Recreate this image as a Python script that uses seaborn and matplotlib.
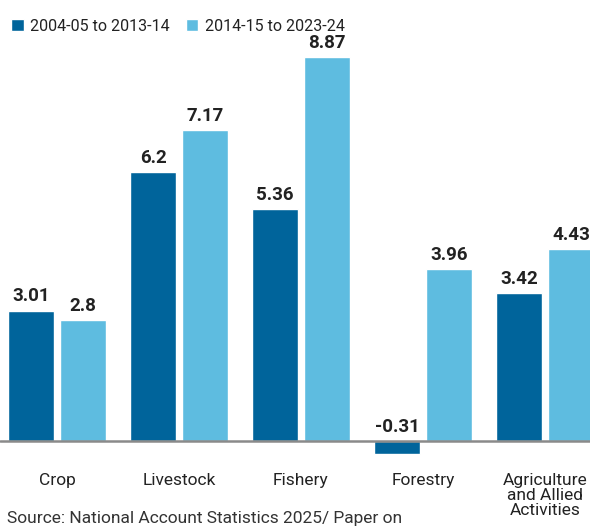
import numpy as np
import pandas as pd
import matplotlib
matplotlib.use("Agg")
import matplotlib.pyplot as plt
import seaborn as sns

categories = ["Crop", "Livestock", "Fishery", "Forestry", "Agriculture\nand Allied\nActivities"]
period_a = [3.01, 6.2, 5.36, -0.31, 3.42]
period_b = [2.8, 7.17, 8.87, 3.96, 4.43]
series_names = ["2004-05 to 2013-14", "2014-15 to 2023-24"]
colors = ["#00649B", "#5EBCE0"]


def main():
	df = pd.DataFrame({
		"sector": categories * 2,
		"growth": period_a + period_b,
		"period": [series_names[0]] * len(categories) + [series_names[1]] * len(categories),
	})

	sns.set_style("white")
	plt.rcParams["font.family"] = ["Roboto", "DejaVu Sans"]

	fig = plt.figure(figsize=(5.9, 5.29), dpi=100)
	ax = fig.add_axes([0, 0.1115, 1, 0.813])

	sns.barplot(data=df, x="sector", y="growth", hue="period",
				palette=colors, width=0.85, gap=0.113, ax=ax,
				saturation=1, errorbar=None, legend=True)

	ax.set_xlim(-0.467, 4.369)
	ax.set_ylim(-0.67, 9.26)
	ax.axhline(0, color="#8a8a8a", lw=1.8, zorder=3)

	# value labels above bars (negative ones sit above the zero line)
	for cont, vals in zip(ax.containers, [period_a, period_b]):
		for bar, v in zip(cont, vals):
			x = bar.get_x() + bar.get_width() / 2
			ax.text(x, max(v, 0) + 0.12, f"{v:g}", ha="center", va="bottom",
					fontsize=13.5, fontweight="bold", color="#222222")

	for s in ax.spines.values():
		s.set_visible(False)
	ax.set_yticks([])
	ax.set_xlabel("")
	ax.set_ylabel("")
	ax.tick_params(axis="x", length=0, pad=2, labelsize=12.5, labelcolor="#222222")
	for lab in ax.get_xticklabels():
		lab.set_linespacing(1.0)

	ax.legend(loc="upper left", bbox_to_anchor=(-0.006, 0.992), bbox_transform=fig.transFigure,
			  ncol=2, frameon=False, fontsize=11.5, handlelength=0.8, handleheight=0.8,
			  handletextpad=0.4, columnspacing=1.0, labelcolor="#222222")

	fig.text(0.012, 0.006, "Source: National Account Statistics 2025/ Paper on",
			 fontsize=12.5, color="#333333", ha="left", va="bottom")

	fig.savefig("out.png", dpi=100)


if __name__ == '__main__':
	main()
